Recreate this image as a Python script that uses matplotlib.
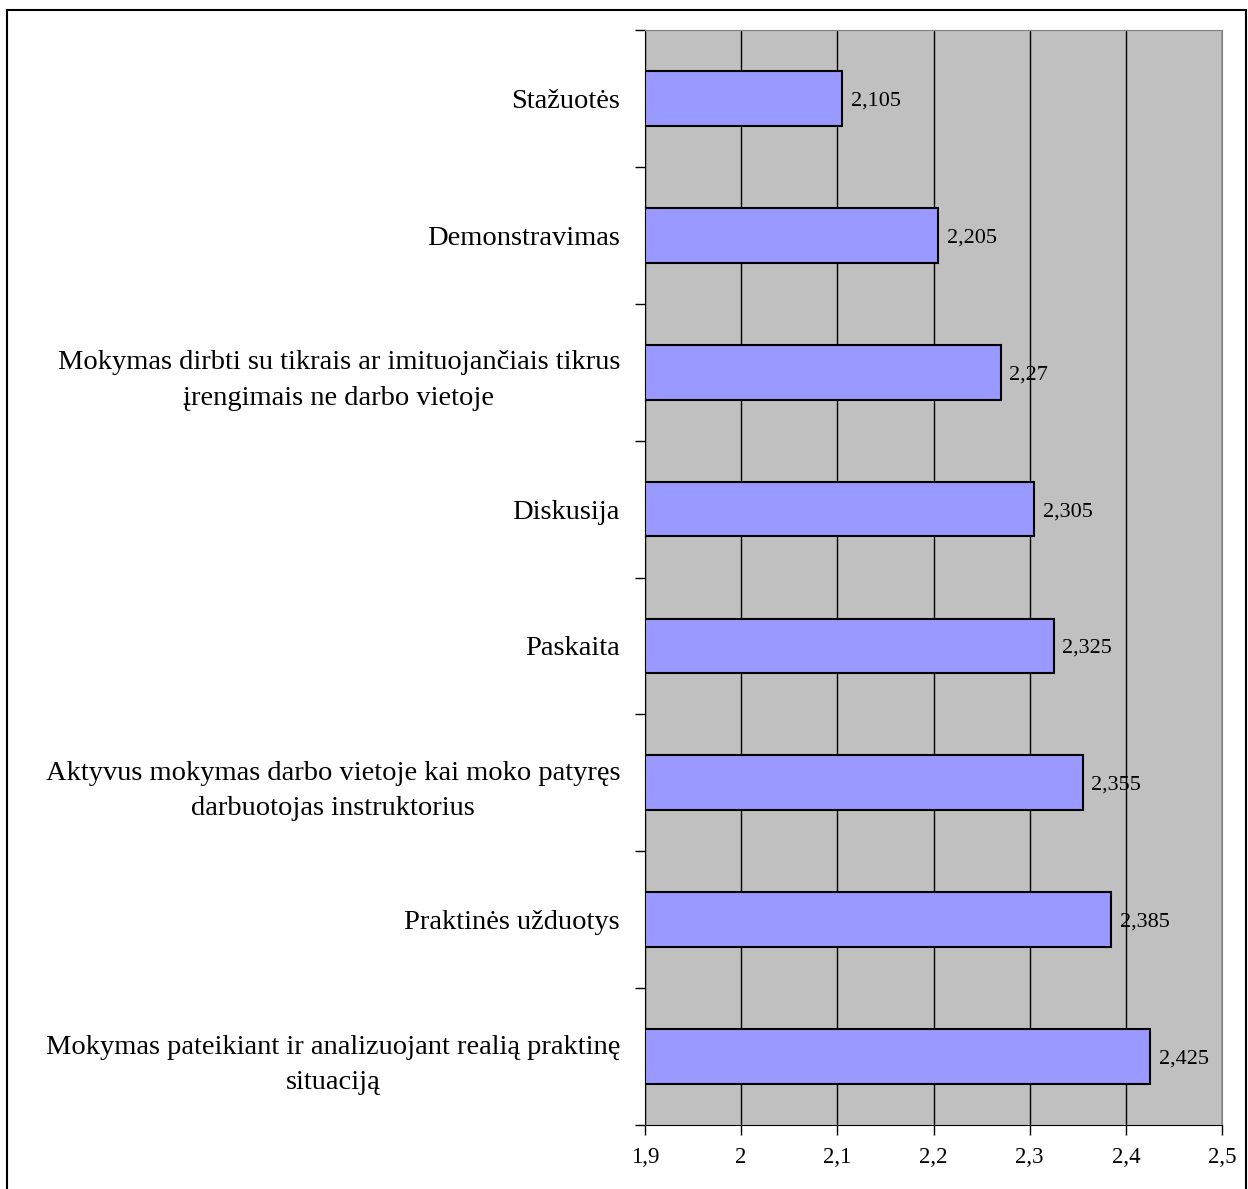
import numpy as np
import matplotlib.pyplot as plt
from matplotlib.patches import Rectangle

categories = [
    "Stažuotės",
    "Demonstravimas",
    "Mokymas dirbti su tikrais ar imituojančiais tikrus\nįrengimais ne darbo vietoje",
    "Diskusija",
    "Paskaita",
    "Aktyvus mokymas darbo vietoje kai moko patyręs\ndarbuotojas instruktorius",
    "Praktinės užduotys",
    "Mokymas pateikiant ir analizuojant realią praktinę\nsituaciją",
]
values = [2.105, 2.205, 2.27, 2.305, 2.325, 2.355, 2.385, 2.425]
xticks = [1.9, 2.0, 2.1, 2.2, 2.3, 2.4, 2.5]

plt.rcParams['font.family'] = ['Liberation Serif', 'DejaVu Serif']

fig = plt.figure(figsize=(12.48, 11.89), dpi=100)
ax = fig.add_axes([645/1248, 1-1125/1189, (1222-645)/1248, (1125-30)/1189])
ax.set_facecolor('#C0C0C0')

y = np.arange(len(categories))
ax.barh(y, [v - 1.9 for v in values], left=1.9, height=0.4,
        color='#9999FF', edgecolor='black', linewidth=1.5, zorder=3)
for yi, v in zip(y, values):
    ax.text(v + 0.009, yi, ('%g' % v).replace('.', ','), va='center_baseline', ha='left',
            fontsize=16, zorder=4)

ax.set_xlim(1.9, 2.5)
ax.set_ylim(len(categories) - 0.5, -0.5)
ax.set_xticks(xticks)
ax.set_xticklabels([('%g' % t).replace('.', ',') for t in xticks], fontsize=16.5)
ax.set_yticks(y)
ax.set_yticklabels(categories, fontsize=20.5, linespacing=1.55)
ax.set_yticks(np.arange(len(categories) + 1) - 0.5, minor=True)
ax.tick_params(axis='y', which='major', length=0, pad=18)
ax.tick_params(axis='y', which='minor', length=7, width=1)
ax.tick_params(axis='x', length=7, width=1, pad=9)
for lbl in ax.get_yticklabels():
    lbl.set_multialignment('center')

ax.xaxis.grid(True, color='black', linewidth=1, zorder=1)
ax.set_axisbelow(True)
ax.spines['left'].set_color('black')
ax.spines['bottom'].set_color('black')
ax.spines['top'].set_color('#808080')
ax.spines['right'].set_color('#808080')

fig.patches.append(Rectangle((7/1248, -0.01), (1246-7)/1248, 1.01 - 10/1189,
                             transform=fig.transFigure, fill=False,
                             edgecolor='black', linewidth=1.5))

fig.savefig('out.png', dpi=100)
